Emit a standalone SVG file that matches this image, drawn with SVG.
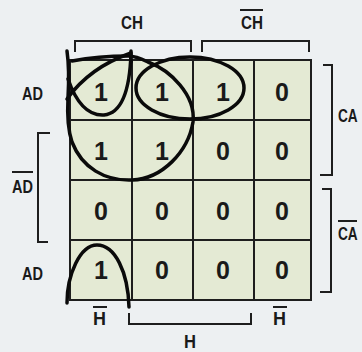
<svg xmlns="http://www.w3.org/2000/svg" width="362" height="352" viewBox="0 0 362 352">
<style>
.bg{fill:#edf0f2}
.cell{fill:#e4ead4;stroke:#1e1e1e;stroke-width:2}
.br{fill:none;stroke:#1e1e1e;stroke-width:2}
.loop{fill:none;stroke:#0a0a0a;stroke-width:3.5;stroke-linecap:round;stroke-linejoin:round}
.lbl{font-family:"Liberation Sans",Arial,sans-serif;font-weight:bold;font-size:19px;fill:#1a1a1a}
.dig{font-family:"Liberation Sans",Arial,sans-serif;font-weight:bold;font-size:25px;fill:#1a1a1a;text-anchor:middle}
</style>
<rect class="bg" x="0" y="0" width="362" height="352"/>
<g id="grid">
<rect class="cell" x="70" y="60" width="62" height="60"/>
<rect class="cell" x="132" y="60" width="61" height="60"/>
<rect class="cell" x="193" y="60" width="61" height="60"/>
<rect class="cell" x="254" y="60" width="57" height="60"/>
<rect class="cell" x="70" y="120" width="62" height="60"/>
<rect class="cell" x="132" y="120" width="61" height="60"/>
<rect class="cell" x="193" y="120" width="61" height="60"/>
<rect class="cell" x="254" y="120" width="57" height="60"/>
<rect class="cell" x="70" y="180" width="62" height="60"/>
<rect class="cell" x="132" y="180" width="61" height="60"/>
<rect class="cell" x="193" y="180" width="61" height="60"/>
<rect class="cell" x="254" y="180" width="57" height="60"/>
<rect class="cell" x="70" y="240" width="62" height="60"/>
<rect class="cell" x="132" y="240" width="61" height="60"/>
<rect class="cell" x="193" y="240" width="61" height="60"/>
<rect class="cell" x="254" y="240" width="57" height="60"/>
</g>
<g id="values">
<text class="dig" x="101" y="101">1</text>
<text class="dig" x="162" y="101">1</text>
<text class="dig" x="223" y="101">1</text>
<text class="dig" x="282" y="101">0</text>
<text class="dig" x="101" y="160">1</text>
<text class="dig" x="162" y="160">1</text>
<text class="dig" x="223" y="160">0</text>
<text class="dig" x="282" y="160">0</text>
<text class="dig" x="101" y="220">0</text>
<text class="dig" x="162" y="220">0</text>
<text class="dig" x="223" y="220">0</text>
<text class="dig" x="282" y="220">0</text>
<text class="dig" x="101" y="279">1</text>
<text class="dig" x="162" y="279">0</text>
<text class="dig" x="223" y="279">0</text>
<text class="dig" x="282" y="279">0</text>
</g>
<g id="brackets">
<path class="br" d="M75,52 V41 H191 V52"/>
<path class="br" d="M202,52 V41 H309 V52"/>
<path class="br" d="M323,65 H332 V175 H320"/>
<path class="br" d="M322,189 H331 V292 H320"/>
<path class="br" d="M50,133 H38 V242 H48"/>
<path class="br" d="M129,313 V324 H251 V313"/>
</g>
<g id="labels">
<text class="lbl" x="121" y="29" textLength="22" lengthAdjust="spacingAndGlyphs">CH</text>
<text class="lbl" x="241" y="29" textLength="22" lengthAdjust="spacingAndGlyphs">CH</text>
<line class="br" x1="240" y1="10" x2="263" y2="10"/>
<text class="lbl" x="22" y="100" textLength="21" lengthAdjust="spacingAndGlyphs">AD</text>
<text class="lbl" x="12" y="193" textLength="21" lengthAdjust="spacingAndGlyphs">AD</text>
<line class="br" x1="12" y1="172" x2="33" y2="172"/>
<text class="lbl" x="22" y="280" textLength="21" lengthAdjust="spacingAndGlyphs">AD</text>
<text class="lbl" transform="translate(338,122) scale(0.72,1)">CA</text>
<text class="lbl" transform="translate(338,240) scale(0.72,1)">CA</text>
<line class="br" x1="338" y1="221" x2="357" y2="221"/>
<text class="lbl" x="93" y="325" textLength="13" lengthAdjust="spacingAndGlyphs">H</text>
<line class="br" x1="93" y1="307" x2="107" y2="307"/>
<text class="lbl" x="273" y="325" textLength="13" lengthAdjust="spacingAndGlyphs">H</text>
<line class="br" x1="273" y1="307" x2="287" y2="307"/>
<text class="lbl" x="184" y="348" textLength="12" lengthAdjust="spacingAndGlyphs">H</text>
</g>
<g id="loops">
<path class="loop" d="M67,51 C69,65 69,80 68,98 C67,116 68,130 72,142 C82,168 105,181 132,180 C162,179 188,152 193,122 C196,95 170,70 148,62 C140,58 134,56 128,56 C108,56 88,58 72,61"/>
<path class="loop" d="M67,99 C82,78 105,62 131,53 C130,85 124,113 104,115 C88,116 76,102 68,79"/>
<line class="loop" x1="131" y1="51" x2="131" y2="62"/>
<ellipse class="loop" cx="190" cy="88" rx="54" ry="31"/>
<path class="loop" d="M67,303 C67,275 80,245 97,245 C115,245 128,272 129,307"/>
</g>
</svg>
